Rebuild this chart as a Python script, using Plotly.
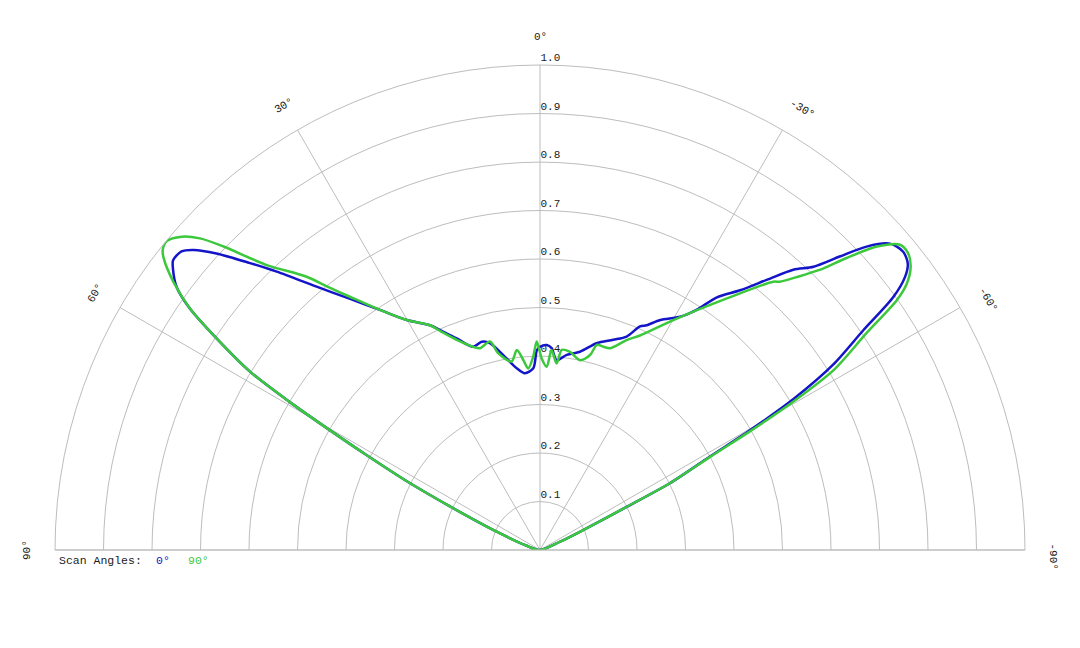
import math
import plotly.graph_objects as go

# ---- data ----
blue_theta = [78, 72, 67.1, 64.3, 62.8, 61.3, 60.3, 59.4, 58.4, 56.8, 55.4, 54.1, 52.5, 51.7, 50.2, 49.1,
              47.5, 45.3, 43.4, 40.3, 37.1, 33.7, 30.1, 26.1, 24.4, 21.5, 18.2, 15.6, 13.6, 9.9, 7.3,
              4.9, 2.1, 0.9, 0, -1.9, -3.3, -5.0, -7.8, -11.4, -15.3, -19.2, -22.1, -24.1, -25.4, -27.6,
              -31.0, -33.1, -35.0, -37.6, -40.0, -42.1, -44.0, -45.6, -47.1, -48.8, -50.6, -52.1, -53.2,
              -54.4, -55.8, -57.7, -59.2, -60.3, -61.2, -62.8, -63.6, -65.2, -67.5, -72]
blue_r = [0.0, 0.03, 0.097, 0.198, 0.301, 0.408, 0.5, 0.6, 0.702, 0.797, 0.877, 0.925, 0.954, 0.964, 0.962, 0.945,
          0.905, 0.841, 0.790, 0.712, 0.649, 0.595, 0.548, 0.516, 0.498, 0.469, 0.441, 0.446, 0.439, 0.401, 0.378,
          0.366, 0.375, 0.412, 0.419, 0.423, 0.417, 0.393, 0.406, 0.417, 0.442, 0.459, 0.475, 0.505, 0.513, 0.535,
          0.561, 0.591, 0.636, 0.676, 0.727, 0.779, 0.812, 0.865, 0.919, 0.959, 0.969, 0.961, 0.940,
          0.896, 0.806, 0.715, 0.61, 0.499, 0.400, 0.301, 0.192, 0.098, 0.045, 0.0]

green_theta = [78, 72, 67.1, 64.3, 62.8, 61.3, 60.3, 59.4, 58.4, 56.8, 55.4, 53.8, 52.2, 51.5, 50.4, 49.0,
               47.5, 46.2, 43.8, 40.5, 39.0, 36.9, 33.7, 30.1, 26.1, 24.4, 21.5, 18.2, 16.6, 13.5, 12.0,
               8.6, 6.6, 5.0, 3.7, 2.0, 0.9, -0.5, -2.1, -3.3, -5.1, -6.2, -8.6, -11.9, -14.4, -15.5,
               -17.3, -19.1, -22.4, -25.0, -30.1, -36.2, -41.0, -41.8, -44.5, -45.2, -46.4, -48.0, -49.7,
               -51.1, -52.6, -54.0, -55.0, -56.4, -58.5, -59.8, -60.5, -61.3, -62.8, -63.6, -65.2, -67.5, -72]
green_r = [0.0, 0.03, 0.097, 0.198, 0.301, 0.408, 0.5, 0.6, 0.702, 0.797, 0.877, 0.937, 0.982, 0.994, 0.999, 0.984,
           0.951, 0.904, 0.814, 0.741, 0.70, 0.653, 0.595, 0.548, 0.516, 0.495, 0.465, 0.441, 0.434, 0.442, 0.415,
           0.393, 0.415, 0.393, 0.375, 0.399, 0.43, 0.395, 0.378, 0.413, 0.386, 0.415, 0.413, 0.400, 0.415, 0.439,
           0.439, 0.440, 0.468, 0.488, 0.548, 0.639, 0.733, 0.742, 0.804, 0.824, 0.873, 0.935, 0.973,
           0.975, 0.962, 0.935, 0.898, 0.808, 0.710, 0.588, 0.5, 0.400, 0.301, 0.192, 0.098, 0.045, 0.0]

radial_ticks = [0.1, 0.2, 0.3, 0.4, 0.5, 0.6, 0.7, 0.8, 0.9, 1.0]
radial_labels = ["0.1", "0.2", "0.3", "0.4", "0.5", "0.6", "0.7", "0.8", "0.9", "1.0"]
angle_ticks = [90, 60, 30, 0, -30, -60, -90]
angle_labels = ["90°", "60°", "30°", "0°", "-30°", "-60°", "-90°"]
series_names = ["0°", "90°"]

BLUE = "#1414c8"
GREEN = "#3cc83c"
GRID = "#bdbdbd"
TXT = "#1a1a1a"
FONT = "Liberation Mono"

fig = go.Figure()
fig.add_trace(go.Scatterpolar(theta=blue_theta, r=blue_r, mode="lines", name=series_names[0],
                              line=dict(color=BLUE, width=2.5, shape="spline", smoothing=0.8)))
fig.add_trace(go.Scatterpolar(theta=green_theta, r=green_r, mode="lines", name=series_names[1],
                              line=dict(color=GREEN, width=2.5, shape="spline", smoothing=0.8)))

W, H = 1080, 648
fig.update_layout(
    width=W, height=H,
    margin=dict(l=0, r=0, t=0, b=0),
    paper_bgcolor="white",
    showlegend=False,
    font=dict(family=FONT, size=11, color=TXT),
    polar=dict(
        domain=dict(x=[55 / W, 1025 / W], y=[1 - 550 / H, 1 - 65 / H]),
        sector=[0, 180],
        bgcolor="white",
        angularaxis=dict(rotation=90, direction="counterclockwise", thetaunit="degrees",
                         tickmode="array", tickvals=angle_ticks, showticklabels=False,
                         ticks="", showgrid=True, gridcolor=GRID, gridwidth=1,
                         showline=True, linecolor=GRID, linewidth=1),
        radialaxis=dict(range=[0, 1], angle=90, tickangle=90, side="clockwise",
                        tickmode="array", tickvals=radial_ticks,
                        ticktext=[t + "<br> " for t in radial_labels],
                        ticks="", showline=False, showgrid=True, gridcolor=GRID, gridwidth=1,
                        tickfont=dict(family=FONT, size=11, color=TXT),
                        layer="below traces"),
    ),
)

# rotated angular labels (tangential), placed just outside the outer circle
cx, cy, R_lab, CH = 540, 550, 513, 6.5
for a, t in zip(angle_ticks, angle_labels):
    rad = math.radians(a)
    x = cx - R_lab * math.sin(rad)
    y = cy - R_lab * math.cos(rad)
    if a < 0:  # minus sign extends ahead of the number
        x += CH * math.cos(rad)
        y -= CH * math.sin(rad)
    fig.add_annotation(x=x / W, y=1 - y / H, xref="paper", yref="paper", text=t,
                       showarrow=False, textangle=-a, xanchor="center", yanchor="middle",
                       font=dict(family=FONT, size=11, color=TXT))

# legend line
fig.add_annotation(x=57 / W, y=1 - 560 / H, xref="paper", yref="paper", text="Scan Angles:",
                   showarrow=False, xanchor="left", yanchor="middle",
                   font=dict(family=FONT, size=11.5, color=TXT))
fig.add_annotation(x=154 / W, y=1 - 560 / H, xref="paper", yref="paper", text=series_names[0],
                   showarrow=False, xanchor="left", yanchor="middle",
                   font=dict(family=FONT, size=11.5, color=BLUE))
fig.add_annotation(x=186 / W, y=1 - 560 / H, xref="paper", yref="paper", text=series_names[1],
                   showarrow=False, xanchor="left", yanchor="middle",
                   font=dict(family=FONT, size=11.5, color=GREEN))

fig.write_html("out.html")
